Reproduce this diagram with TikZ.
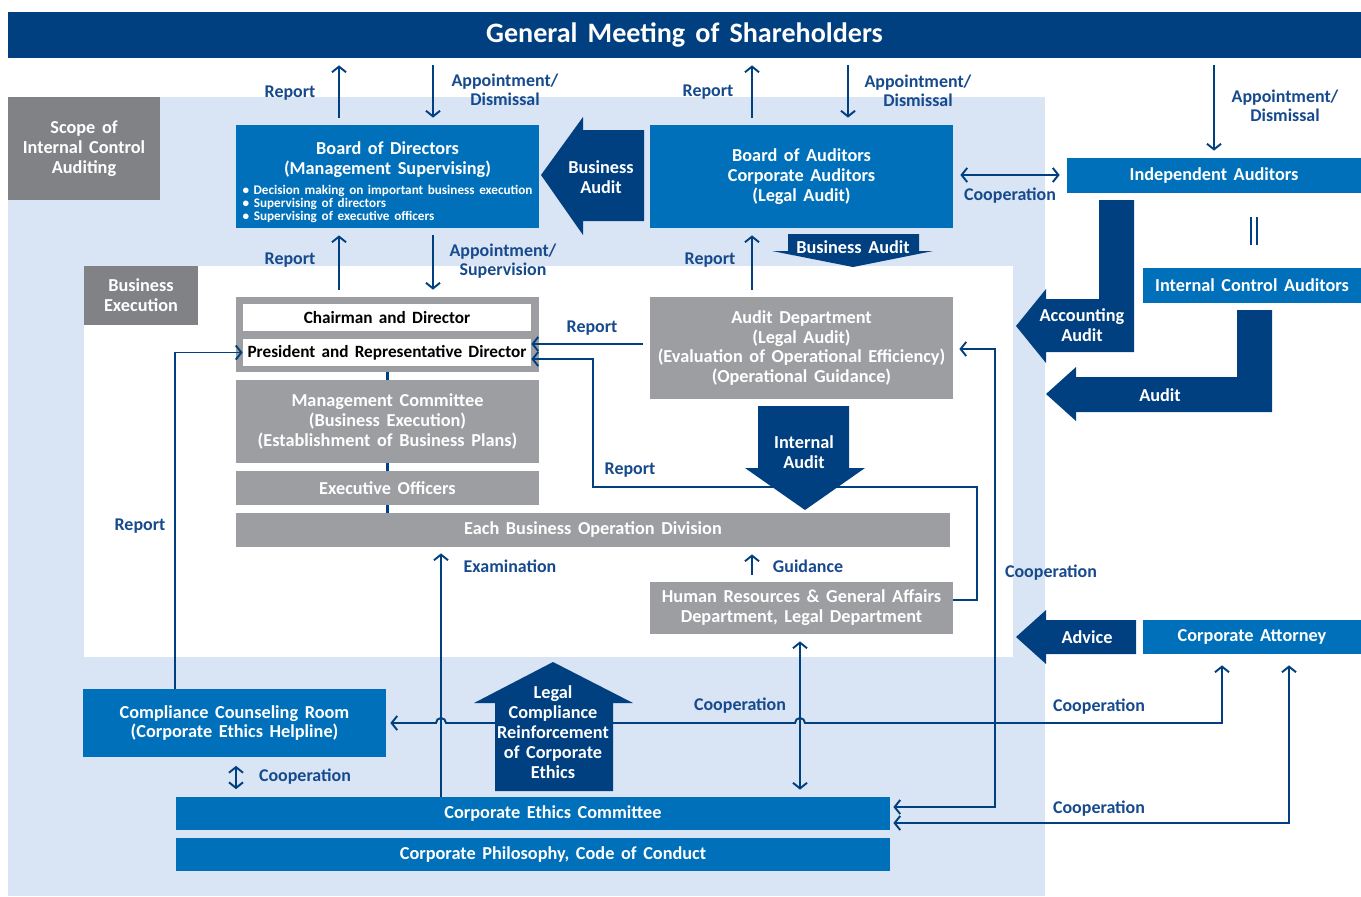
\documentclass[tikz,border=0pt]{standalone}
\usepackage{fontspec}
\setmainfont{Carlito}[WordSpace=1.6]
\usetikzlibrary{arrows.meta, calc}

\definecolor{dblue}{RGB}{0,64,128}
\definecolor{mblue}{RGB}{0,112,186}
\definecolor{lblue}{RGB}{22,74,140}
\definecolor{lbg}{RGB}{217,228,244}
\definecolor{gry}{RGB}{157,158,161}
\definecolor{dgry}{RGB}{128,130,133}

\newcommand{\boxfont}{\fontsize{10.4}{11.3}\selectfont\bfseries}
\newcommand{\lblfont}{\fontsize{10.2}{10.8}\selectfont\bfseries}

\begin{document}
\begin{tikzpicture}[x=0.02cm, y=-0.02cm,
    >={Straight Barb[length=3.2pt,width=8pt]},
    wh/.style 2 args={minimum width=#1*0.02cm, minimum height=#2*0.02cm},
    bbox/.style={fill=mblue, text=white, font=\boxfont, align=center, inner sep=0pt},
    gbox/.style={fill=gry, text=white, font=\boxfont, align=center, inner sep=0pt},
    wbox/.style={fill=white, text=black, font=\fontsize{9.8}{11.3}\selectfont\bfseries, align=center, inner sep=0pt},
    sbox/.style={fill=dgry, text=white, font=\boxfont, align=center, inner sep=0pt},
    lbl/.style={text=lblue, font=\lblfont, align=center, inner sep=0pt},
    btxt/.style={text=white, font=\boxfont, align=center, inner sep=0pt},
    arr/.style={draw=dblue, line width=1.1pt, ->},
    darr/.style={draw=dblue, line width=1.1pt, <->},
    gap/.style={shorten <=0.14cm, shorten >=0.14cm}]
\useasboundingbox (0,0) rectangle (1361,896);

% scope areas
\fill[lbg] (8,97) rectangle (1045,896);
\fill[white] (84,266) rectangle (1013,657);
\node[sbox, wh={152}{103}] (scope) at (84,148.5) {Scope of\\Internal Control\\Auditing};
\node[sbox, wh={114}{59}] (bexec) at (141,295.5) {Business\\Execution};

\node[fill=dblue, text=white, inner sep=0pt, wh={1353}{46},
      font=\fontsize{16}{18}\selectfont\bfseries] (gms) at (684.5,35) {General Meeting of Shareholders};

% supervising / auditing
\node[bbox, wh={303}{103}] (bod) at (387.5,176.5) {\rule{0pt}{14pt}Board of Directors\\(Management Supervising)\\
  \parbox[t]{5.8cm}{\fontsize{7.5}{7.4}\selectfont\raggedright
  \textbullet\ Decision making on important business execution\\
  \textbullet\ Supervising of directors\\
  \textbullet\ Supervising of executive officers}};
\node[bbox, wh={303}{103}] (boa) at (801.5,176.5) {Board of Auditors\\Corporate Auditors\\(Legal Audit)};
\node[bbox, wh={294}{35}] (ia) at (1214,175.5) {Independent Auditors};
\node[bbox, wh={218}{35}] (ica) at (1252,285.5) {Internal Control Auditors};
\node[bbox, wh={218}{34}] (ca) at (1252,637) {Corporate Attorney};

% business execution
\node[gbox, wh={303}{75}] (exec) at (387.5,334.5) {};
\node[wbox, wh={288}{27}] (chair) at (387,317.5) {Chairman and Director};
\node[wbox, wh={288}{27}] (pres) at (387,352.5) {President and Representative Director};
\node[gbox, wh={303}{83}] (mc) at (387.5,421.5) {Management Committee\\(Business Execution)\\(Establishment of Business Plans)};
\node[gbox, wh={303}{34}] (eo) at (387.5,488) {Executive Officers};
\node[gbox, wh={714}{34}] (ebod) at (593,530) {Each Business Operation Division};
\node[gbox, wh={303}{102}] (ad) at (801.5,348) {Audit Department\\(Legal Audit)\\(Evaluation of Operational Efficiency)\\(Operational Guidance)};
\node[gbox, wh={303}{52}] (hr) at (801.5,608) {Human Resources \& General Affairs\\Department, Legal Department};
\draw[dblue, line width=2.2pt] (exec.south) -- (mc.north) (mc.south) -- (eo.north) (eo.south) -- (eo.south |- ebod.north);

% compliance
\node[bbox, wh={303}{68}] (ccr) at (234.5,723) {Compliance Counseling Room\\(Corporate Ethics Helpline)};
\node[bbox, wh={714}{33}] (cec) at (533,813.5) {\hspace*{0.8cm}Corporate Ethics Committee};
\node[bbox, wh={714}{33}] (cpc) at (533,854.5) {\hspace*{0.8cm}Corporate Philosophy, Code of Conduct};

% thin arrows
\draw[arr, gap] (339,0 |- bod.north) -- (339,0 |- gms.south);
\draw[arr, gap] (433,0 |- gms.south) -- (433,0 |- bod.north);
\draw[arr, gap] (752,0 |- boa.north) -- (752,0 |- gms.south);
\draw[arr, gap] (848,0 |- gms.south) -- (848,0 |- boa.north);
\draw[arr, gap] (1214,0 |- gms.south) -- (ia.north);
\draw[darr, gap] (boa.east |- 0,175) -- (ia.west |- 0,175);
\draw[dblue, line width=1.1pt] (1251,217) -- (1251,245) (1257,217) -- (1257,245);
\draw[arr, gap] (339,0 |- exec.north) -- (339,0 |- bod.south);
\draw[arr, gap] (433,0 |- bod.south) -- (433,0 |- exec.north);
\draw[arr, gap] (752,0 |- ad.north) -- (752,0 |- boa.south);
\draw[arr, shorten <=0.14cm] (ad.west |- 0,344) -- (pres.east |- 0,344);
\draw[arr] (hr.east |- 0,600) -| (977,487) -| (593,359) -- (pres.east |- 0,359);
\draw[arr] (175,0 |- ccr.north) |- (pres.west);
\draw[arr, gap] (752,0 |- hr.north) -- (752,0 |- ebod.south);
\draw[arr, shorten >=0.12cm] (441,0 |- cec.north) -- (441,0 |- ebod.south);
\draw[darr, gap] (800,0 |- hr.south) -- (800,0 |- cec.north);
\draw[darr, shorten <=0.17cm, shorten >=0.15cm] (236,0 |- ccr.south) -- (236,0 |- cec.north);
\draw[darr, shorten <=0.08cm, shorten >=0.22cm] (ccr.east) -- (436,723)
    arc[start angle=180, end angle=0, radius=0.1cm] -- (795,723)
    arc[start angle=180, end angle=0, radius=0.1cm] -- (1222,723) -- (1222,0 |- ca.south);
\draw[darr, shorten <=0.06cm, shorten >=0.12cm] (cec.east |- 0,807) -| (995,349) -- (ad.east |- 0,349);
\draw[darr, shorten <=0.06cm, shorten >=0.22cm] (cec.east |- 0,823) -| (1289,0 |- ca.south);

% block arrows
\fill[dblue] (644,130) -- (583,130) -- (583,117) -- (541,175) -- (583,235) -- (583,221) -- (644,221) -- cycle;
\fill[dblue] (788,234) -- (919,234) -- (919,251) -- (933,251) -- (853,267) -- (772,251) -- (788,251) -- cycle;
\fill[dblue] (758,406) -- (849,406) -- (849,468) -- (865,468) -- (805,510) -- (745,468) -- (758,468) -- cycle;
\fill[dblue] (1099,200) -- (1134,200) -- (1134,352) -- (1046,352) -- (1046,363) -- (1016,326) -- (1046,289) -- (1046,299) -- (1099,299) -- cycle;
\fill[dblue] (1237,310) -- (1272,310) -- (1272,412) -- (1076,412) -- (1076,421) -- (1046,394) -- (1076,367) -- (1076,377) -- (1237,377) -- cycle;
\fill[dblue] (1136,620) -- (1046,620) -- (1046,610) -- (1016,637) -- (1046,664) -- (1046,654) -- (1136,654) -- cycle;
\fill[dblue] (495,791) -- (613,791) -- (613,703) -- (633,703) -- (553,662) -- (474,703) -- (495,703) -- cycle;
\node[btxt] (baudit) at (601,177) {Business\\Audit};
\node[btxt] (baudit2) at (853,247) {Business Audit};
\node[btxt] (iaudit) at (804,452) {Internal\\Audit};
\node[btxt] (acc) at (1082,325) {Accounting\\Audit};
\node[btxt] (audit) at (1160,395) {Audit};
\node[btxt] (advice) at (1087,637) {Advice};
\node[btxt] (legal) at (553,732) {Legal\\Compliance\\Reinforcement\\of Corporate\\Ethics};

% labels
\node[lbl] (rep1) at (290,93) {Report};
\node[lbl] (app1) at (505,89.5) {Appointment/\\Dismissal};
\node[lbl] (rep2) at (708,92) {Report};
\node[lbl] (app2) at (918,90.5) {Appointment/\\Dismissal};
\node[lbl] (app3) at (1285,106) {Appointment/\\Dismissal};
\node[lbl] (coop1) at (1010,196) {Cooperation};
\node[lbl] (rep3) at (290,260) {Report};
\node[lbl] (app4) at (503,261.5) {Appointment/\\Supervision};
\node[lbl] (rep4) at (710,260) {Report};
\node[lbl] (rep5) at (592,328) {Report};
\node[lbl] (rep6) at (630,470) {Report};
\node[lbl] (rep7) at (140,526) {Report};
\node[lbl] (exam) at (510,566) {Examination};
\node[lbl] (guid) at (808,566) {Guidance};
\node[lbl] (coop2) at (1051,573) {Cooperation};
\node[lbl] (coop3) at (740,706) {Cooperation};
\node[lbl] (coop4) at (1099,707) {Cooperation};
\node[lbl] (coop5) at (305,777) {Cooperation};
\node[lbl] (coop6) at (1099,809) {Cooperation};
\end{tikzpicture}
\end{document}
